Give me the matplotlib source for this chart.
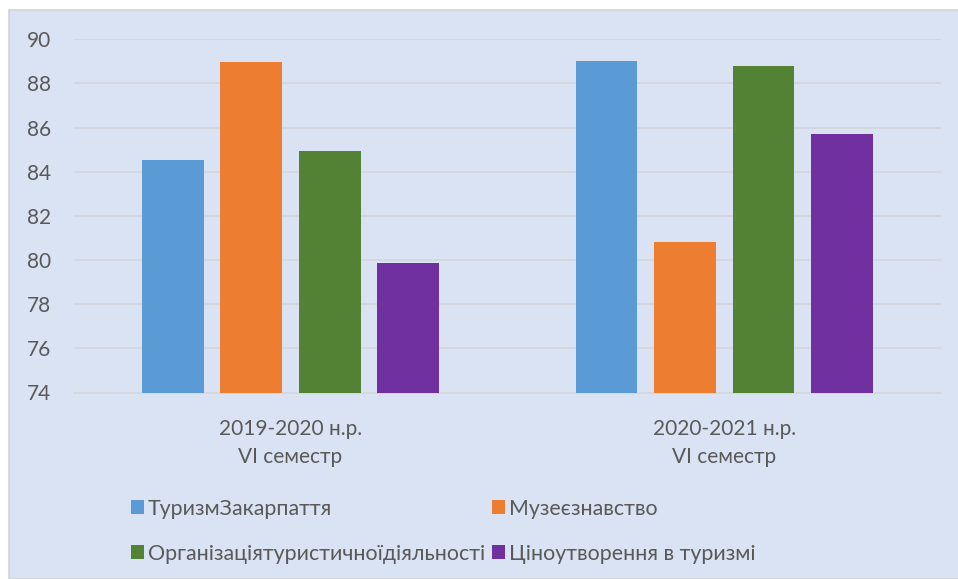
import matplotlib
matplotlib.use('Agg')
from matplotlib import pyplot as plt
from matplotlib.patches import Rectangle, Patch

W, H = 958, 579

# chart data
periods = ['2019-2020 н.р.\nVI семестр', '2020-2021 н.р.\nVI семестр']
series = ['ТуризмЗакарпаття', 'Музеєзнавство',
          'Організаціятуристичноїдіяльності', 'Ціноутворення в туризмі']
turyzm = [84.55, 89.0]
muzei = [88.95, 80.8]
orhanizatsiia = [84.95, 88.8]
tsinoutvorennia = [79.85, 85.7]
values = [turyzm, muzei, orhanizatsiia, tsinoutvorennia]
colors = ['#5B9BD5', '#ED7D31', '#548235', '#7030A0']

TEXT = '#595959'
BG = '#DAE3F3'
GRID = '#D4D7DC'
FS = 15

plt.rcParams['font.family'] = ['Lato', 'DejaVu Sans']

fig = plt.figure(figsize=(W / 100, H / 100), dpi=100)
fig.patch.set_facecolor('white')

# chart area background with thin border
fig.patches.append(Rectangle((9 / W, 0), 1, 1 - 10 / H, transform=fig.transFigure,
                             facecolor=BG, edgecolor='#D0D3D8', linewidth=1.2,
                             zorder=-5))

ax = fig.add_axes([73.7 / W, (H - 392.5) / H, 867.3 / W, (392.5 - 39.3) / H])
ax.set_facecolor('none')

step = 0.181
width = 0.142
for k, (name, vals, c) in enumerate(zip(series, values, colors)):
    xs = [i + (k - 1.5) * step for i in range(len(periods))]
    ax.bar(xs, [v - 74 for v in vals], bottom=74, width=width, color=c,
           zorder=3, label=name)

ax.set_xlim(-0.5, 1.5)
ax.set_ylim(74, 90)
ax.set_yticks(range(74, 91, 2))
ax.yaxis.grid(True, color=GRID, linewidth=1.3, zorder=0)
ax.set_axisbelow(True)
for s in ['top', 'right', 'left']:
    ax.spines[s].set_visible(False)
ax.spines['bottom'].set_color(GRID)
ax.spines['bottom'].set_linewidth(1.3)
ax.tick_params(axis='both', length=0, colors=TEXT, labelsize=FS)
ax.tick_params(axis='y', pad=16)
ax.tick_params(axis='x', pad=19)
ax.set_xticks(range(len(periods)))
ax.set_xticklabels(periods, linespacing=1.5)

# legend filled row by row like the original
order = [0, 2, 1, 3]
handles = [Patch(facecolor=colors[i], edgecolor='none') for i in order]
labels = [series[i] for i in order]
fig.legend(handles, labels, loc='upper left',
           bbox_to_anchor=(122 / W, 1 - 490 / H), ncol=2, frameon=False,
           fontsize=15.4, labelcolor=TEXT, handlelength=0.62, handleheight=0.62,
           handletextpad=0.2, columnspacing=0.3, labelspacing=1.18,
           borderaxespad=0)

fig.savefig('out.png', dpi=100, facecolor=fig.get_facecolor())
